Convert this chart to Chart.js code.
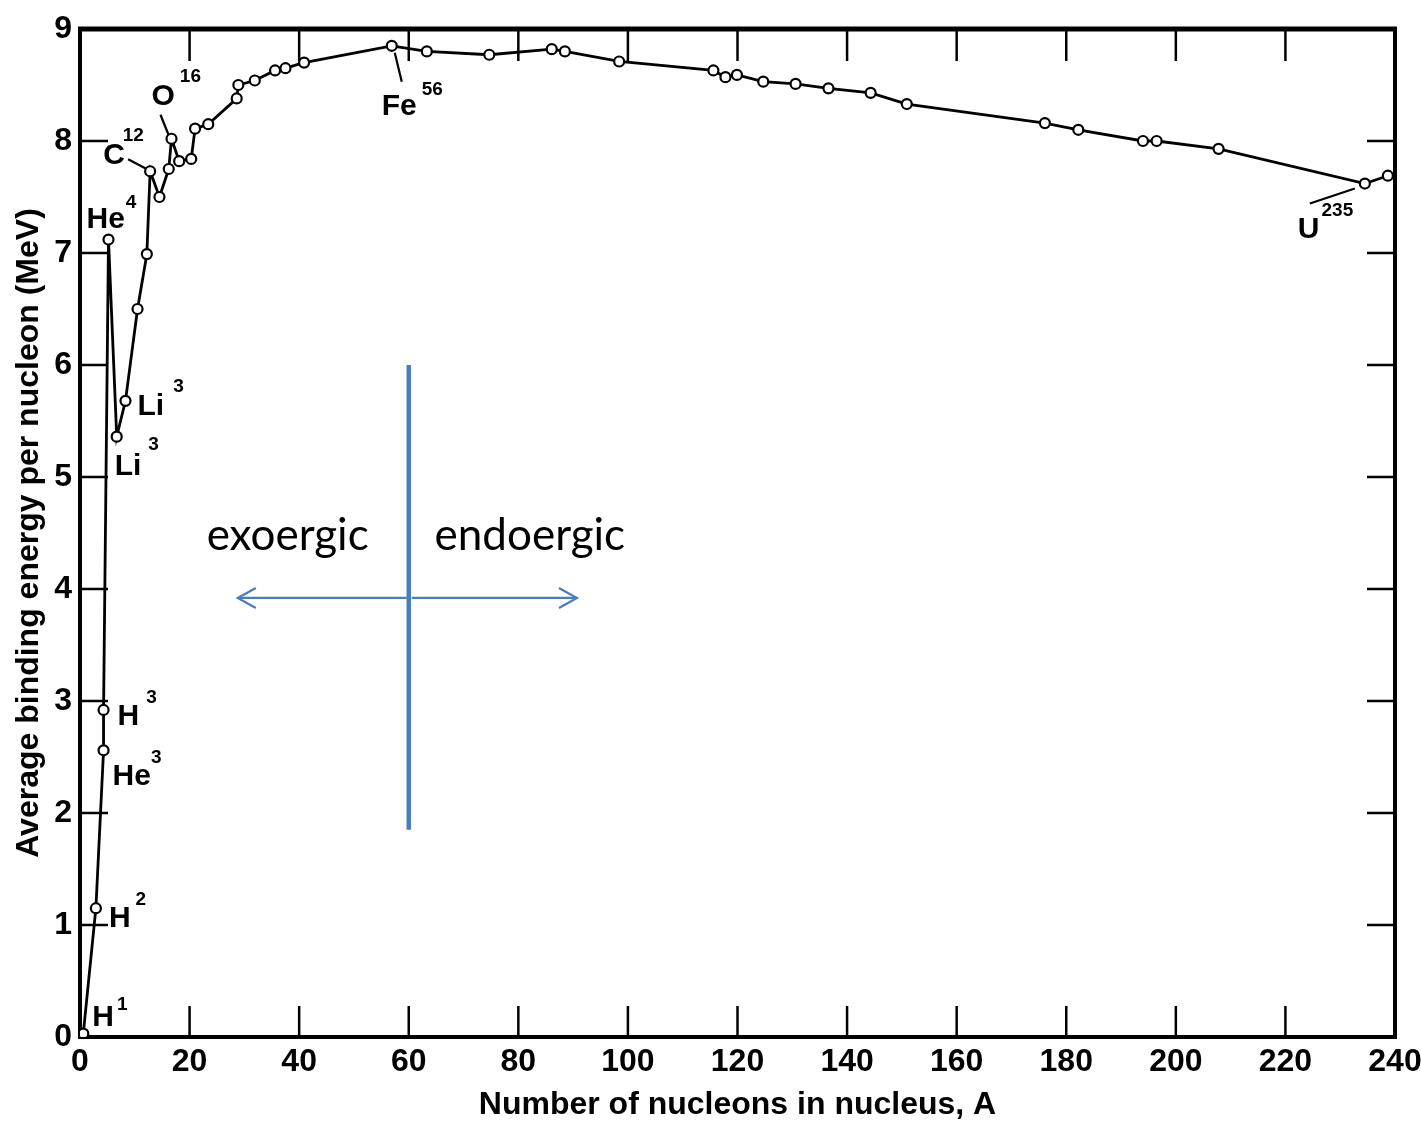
<!DOCTYPE html>
<html>
<head>
<meta charset="utf-8">
<title>Average binding energy per nucleon</title>
<script src="https://cdn.jsdelivr.net/npm/chart.js@4/dist/chart.umd.min.js"></script>
<style>
  html, body { margin: 0; padding: 0; background: #fff; }
  #wrap { width: 1421px; height: 1124px; }
</style>
</head>
<body>
<div id="wrap"><canvas id="bindingChart" width="1421" height="1124"></canvas></div>
<script>
// mass number A of every plotted nucleus, in the order the curve joins them
var massNumbers = [0.6, 2.9, 4.3, 4.3, 5.2, 6.7, 8.3, 10.5, 12.2, 12.8, 14.5, 16.2, 16.7, 18.1, 20.3,
  21.0, 23.4, 28.6, 28.9, 31.9, 35.6, 37.5, 40.9, 56.9, 63.3, 74.7, 86.1, 88.5, 98.4, 115.6, 117.8,
  119.9, 124.7, 130.6, 136.6, 144.3, 150.9, 176.1, 182.2, 194.0, 196.5, 207.8, 234.5, 238.7];
// average binding energy per nucleon (MeV)
var bindingEnergy = [0.03, 1.15, 2.56, 2.92, 7.12, 5.36, 5.68, 6.50, 6.99, 7.73, 7.50, 7.75, 8.02, 7.82, 7.84,
  8.11, 8.15, 8.38, 8.50, 8.54, 8.63, 8.65, 8.70, 8.85, 8.80, 8.77, 8.82, 8.80, 8.71, 8.63, 8.57,
  8.59, 8.53, 8.51, 8.47, 8.43, 8.33, 8.16, 8.10, 8.00, 8.00, 7.93, 7.62, 7.69];

var xTicks = [0, 20, 40, 60, 80, 100, 120, 140, 160, 180, 200, 220, 240];
var yTicks = [0, 1, 2, 3, 4, 5, 6, 7, 8, 9];

// labelled nuclei: symbol, superscript, index of the point it belongs to
var nuclideSymbols = ['H', 'H', 'He', 'H', 'He', 'Li', 'Li', 'C', 'O', 'Fe', 'U'];
var nuclideSups = ['1', '2', '3', '3', '4', '3', '3', '12', '16', '56', '235'];
var nuclidePoints = [0, 1, 2, 3, 4, 5, 6, 9, 12, 23, 42];

// blue exo/endoergic marker (data units)
var dividerA = 60;
var dividerFrom = 1.85, dividerTo = 6;
var arrowLevel = 3.92;
var arrowLeftEnd = 28.8, arrowRightEnd = 90.7;
var regionTexts = ['exoergic', 'endoergic'];
var regionTextA = [37.9, 82.1];
var regionTextLevel = 4.35;

// pixel offsets of the label text from its point: dx, dy, superscript raise, gap
var labelOffsets = [[9, -8, 16, 3], [13, 19, 22, 5], [9, 35, 22, 0], [14, 15, 22, 7], [-22, -12, 20, 1],
  [-2, 38, 25, 7], [12, 14, 23, 9], [-47, -7, 23, -2], [-20, -34, 23, 5], [-10, 69, 20, 5], [-67, 54, 22, 2]];
// leader lines: point index, start dx/dy, end dx/dy
var leaderLines = [[9, -22, -12, -3, -2], [12, -11, -24, -3, -4], [23, 3, 7, 10, 36], [42, -55, 20, -10, 5]];

var FONT = 'Liberation Sans, Arial, sans-serif';
var BLUE = '#4a7ebb';

var points = massNumbers.map(function(a, i) { return { x: a, y: bindingEnergy[i] }; });

function line(ctx, x1, y1, x2, y2) {
  ctx.beginPath();
  ctx.moveTo(x1, y1);
  ctx.lineTo(x2, y2);
  ctx.stroke();
}

var framePlugin = {
  id: 'framePlugin',
  beforeDraw: function(chart) {
    var ctx = chart.ctx;
    ctx.save();
    ctx.fillStyle = '#fff';
    ctx.fillRect(0, 0, chart.width, chart.height);
    ctx.restore();
  },
  beforeDatasetsDraw: function(chart) {
    var ctx = chart.ctx, a = chart.chartArea, xs = chart.scales.x, ys = chart.scales.y;
    ctx.save();
    ctx.strokeStyle = '#000';
    ctx.lineCap = 'butt';

    // tick marks point inward on all four sides
    ctx.lineWidth = 2.5;
    xTicks.slice(1, -1).forEach(function(v) {
      var px = xs.getPixelForValue(v);
      line(ctx, px, a.bottom, px, a.bottom - 31);
      line(ctx, px, a.top, px, a.top + 32);
    });
    yTicks.slice(1, -1).forEach(function(v) {
      var py = ys.getPixelForValue(v);
      line(ctx, a.left, py, a.left + 28, py);
      line(ctx, a.right, py, a.right - 28, py);
    });

    // plot frame, top edge heavier
    ctx.lineWidth = 4;
    ctx.strokeRect(a.left, a.top, a.right - a.left, a.bottom - a.top);
    ctx.lineWidth = 5;
    line(ctx, a.left - 2, a.top, a.right + 2, a.top);

    // leader lines from labels to their points
    ctx.lineWidth = 2.2;
    leaderLines.forEach(function(l) {
      var px = xs.getPixelForValue(massNumbers[l[0]]), py = ys.getPixelForValue(bindingEnergy[l[0]]);
      line(ctx, px + l[1], py + l[2], px + l[3], py + l[4]);
    });
    ctx.restore();
  },
  afterDatasetsDraw: function(chart) {
    var ctx = chart.ctx, xs = chart.scales.x, ys = chart.scales.y;
    ctx.save();

    // nuclide labels with superscripts
    ctx.fillStyle = '#000';
    ctx.textAlign = 'left';
    ctx.textBaseline = 'alphabetic';
    nuclideSymbols.forEach(function(sym, i) {
      var k = nuclidePoints[i], o = labelOffsets[i];
      var tx = xs.getPixelForValue(massNumbers[k]) + o[0];
      var ty = ys.getPixelForValue(bindingEnergy[k]) + o[1];
      ctx.font = 'bold 30px ' + FONT;
      ctx.fillText(sym, tx, ty);
      var w = ctx.measureText(sym).width;
      ctx.font = 'bold 19px ' + FONT;
      ctx.fillText(nuclideSups[i], tx + w + o[3], ty - o[2]);
    });

    // exoergic / endoergic marker
    var dx = xs.getPixelForValue(dividerA);
    var ay = ys.getPixelForValue(arrowLevel);
    var lx = xs.getPixelForValue(arrowLeftEnd), rx = xs.getPixelForValue(arrowRightEnd);
    ctx.strokeStyle = BLUE;
    ctx.lineWidth = 4.5;
    line(ctx, dx, ys.getPixelForValue(dividerTo), dx, ys.getPixelForValue(dividerFrom));
    ctx.lineWidth = 2.2;
    line(ctx, dx - 2, ay, lx, ay);
    line(ctx, dx + 3, ay, rx, ay);
    ctx.beginPath();
    ctx.moveTo(lx + 18, ay - 10); ctx.lineTo(lx, ay); ctx.lineTo(lx + 18, ay + 10);
    ctx.moveTo(rx - 18, ay - 10); ctx.lineTo(rx, ay); ctx.lineTo(rx - 18, ay + 10);
    ctx.stroke();

    ctx.fillStyle = '#000';
    ctx.font = '44px Lato, Carlito, sans-serif';
    ctx.textAlign = 'center';
    regionTexts.forEach(function(t, i) {
      ctx.fillText(t, xs.getPixelForValue(regionTextA[i]), ys.getPixelForValue(regionTextLevel));
    });
    ctx.restore();
  }
};

Chart.defaults.font.family = FONT;
Chart.defaults.color = '#000';

new Chart(document.getElementById('bindingChart').getContext('2d'), {
  type: 'line',
  data: {
    datasets: [{
      data: points,
      borderColor: '#000',
      borderWidth: 2.8,
      tension: 0,
      fill: false,
      pointRadius: 5,
      pointBorderWidth: 2.2,
      pointBackgroundColor: '#fff',
      pointBorderColor: '#000'
    }]
  },
  options: {
    responsive: false,
    animation: false,
    layout: { padding: { top: 29, right: 26, left: 0, bottom: 0 } },
    plugins: { legend: { display: false }, tooltip: { enabled: false } },
    scales: {
      x: {
        type: 'linear',
        min: 0,
        max: 240,
        afterFit: function(scale) {
          scale.height = 87;
          scale.paddingLeft = 0;
          scale.paddingRight = 0;
        },
        afterBuildTicks: function(scale) { scale.ticks = xTicks.map(function(v) { return { value: v }; }); },
        grid: { display: false, drawTicks: false },
        border: { display: false },
        ticks: { color: '#000', font: { size: 32, weight: 'bold' }, padding: 6, maxRotation: 0, autoSkip: false },
        title: {
          display: true,
          text: 'Number of nucleons in nucleus, A',
          color: '#000',
          font: { size: 32, weight: 'bold' },
          padding: { top: 0, bottom: 0 }
        }
      },
      y: {
        type: 'linear',
        min: 0,
        max: 9,
        afterFit: function(scale) {
          scale.width = 80;
          scale.paddingTop = 0;
          scale.paddingBottom = 0;
        },
        afterBuildTicks: function(scale) { scale.ticks = yTicks.map(function(v) { return { value: v }; }); },
        grid: { display: false, drawTicks: false },
        border: { display: false },
        ticks: { color: '#000', font: { size: 32, weight: 'bold' }, padding: 8 },
        title: {
          display: true,
          text: 'Average binding energy per nucleon (MeV)',
          color: '#000',
          font: { size: 32, weight: 'bold' },
          padding: { top: 10, bottom: 0 }
        }
      }
    }
  },
  plugins: [framePlugin]
});
</script>
</body>
</html>
